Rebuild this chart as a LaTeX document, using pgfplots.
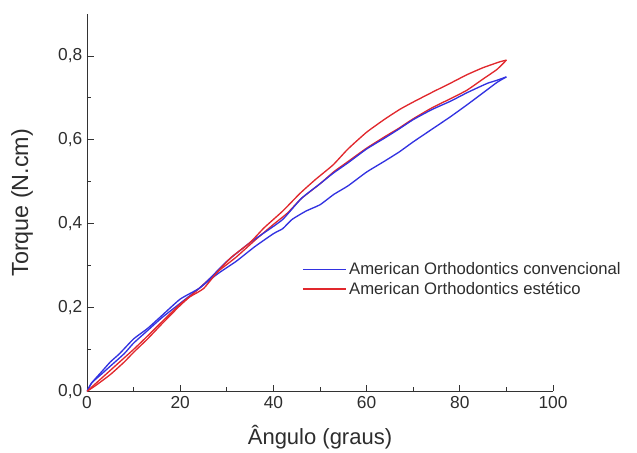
\documentclass[border=0pt]{standalone}
\usepackage{fontspec}
\setmainfont{Liberation Sans}
\usepackage{pgfplots}
\pgfplotsset{compat=1.18}
\definecolor{bl}{RGB}{50,50,225}
\definecolor{rd}{RGB}{225,40,45}
\definecolor{txt}{RGB}{45,45,45}
\begin{document}
\begin{tikzpicture}
\begin{axis}[
 scale only axis, width=349.5pt, height=283pt,
 xmin=0, xmax=100, ymin=0, ymax=0.9,
 axis lines*=left,
 axis line style={draw=black!80, line width=0.6pt},
 xtick={0,20,40,60,80,100}, ytick={0,0.2,0.4,0.6,0.8},
 minor xtick={10,30,50,70,90}, minor ytick={0.1,0.3,0.5,0.7},
 tick align=inside,
 major tick length=5pt, minor tick length=3pt,
 tick style={black!80, line width=0.6pt},
 yticklabel style={/pgf/number format/.cd, fixed, fixed zerofill, precision=1, use comma},
 xticklabel style={/pgf/number format/.cd, fixed, use comma},
 /pgf/number format/assume math mode=true,
 ticklabel style={font=\fontsize{13}{15}\selectfont, text=txt},
 xlabel={Ângulo (graus)}, ylabel={Torque (N.cm)},
 xlabel style={at={(axis description cs:0.5,-0.122)}, anchor=center, font=\fontsize{16.5}{19}\selectfont, text=txt},
 ylabel style={at={(axis description cs:-0.1395,0.5)}, anchor=center, font=\fontsize{17.5}{20}\selectfont, text=txt},
 legend style={draw=none, fill=none, at={(rel axis cs:0.461,0.297)}, anchor=west, inner sep=0pt, font=\fontsize{12.5}{15}\selectfont, text=txt},
 legend cell align=left,
 legend image code/.code={\draw[#1, line width=1.3pt] (0pt,0pt) -- (32pt,0pt);},
]
\addplot[bl, line width=1pt, smooth, tension=0.3] coordinates {
(0,0) (1,0.02) (3,0.04) (5,0.06) (8,0.09) (10,0.115) (13,0.145) (16,0.175) (20,0.21) (24,0.245) (28,0.28) (32,0.31) (36,0.345) (40,0.376) (42,0.388) (44,0.41) (47,0.43) (50,0.445) (53,0.47) (56,0.49) (60,0.523) (64,0.55) (67,0.571) (70,0.595) (74,0.625) (78,0.655) (81.5,0.683) (85,0.712) (88,0.737) (90,0.75)
};
\addlegendentry{American Orthodontics convencional}
\addplot[rd, line width=1pt, smooth, tension=0.3] coordinates {
(0,0) (2,0.015) (5,0.04) (8,0.07) (10,0.093) (13,0.125) (16,0.16) (20,0.205) (24,0.245) (28,0.285) (32,0.32) (36,0.36) (40,0.398) (43,0.425) (46,0.46) (50,0.495) (53,0.524) (56,0.548) (60,0.58) (64,0.608) (67,0.628) (70,0.65) (74,0.676) (78,0.698) (81.5,0.718) (85,0.745) (88,0.768) (90,0.79)
};
\addlegendentry{American Orthodontics estético}
\addplot[bl, line width=1pt, smooth, tension=0.3, forget plot] coordinates {
(90,0.75) (88,0.742) (86,0.735) (84,0.725) (81.5,0.712) (78,0.692) (74,0.672) (70,0.648) (67,0.626) (64,0.605) (60,0.578) (56,0.545) (52.8,0.52) (50,0.495) (46,0.46) (42,0.41) (38,0.378) (35,0.355) (30,0.31) (26,0.265) (24,0.245) (20,0.22) (16,0.18) (13,0.15) (10,0.125) (7,0.09) (5,0.07) (3,0.045) (1,0.02) (0,0)
};
\addplot[rd, line width=1pt, smooth, tension=0.3, forget plot] coordinates {
(90,0.79) (88.6,0.786) (85,0.772) (81.5,0.755) (78,0.735) (74.2,0.714) (70,0.69) (67.2,0.673) (64,0.65) (60,0.618) (56,0.578) (52.8,0.54) (49,0.505) (45.7,0.472) (42,0.43) (38,0.39) (35,0.355) (31,0.32) (28,0.285) (25,0.245) (22,0.225) (20,0.208) (16,0.165) (13,0.132) (10,0.1) (7,0.07) (5,0.05) (2,0.02) (0,0)
};
\end{axis}
\pgfresetboundingbox
\path[use as bounding box] (-65.25pt,-45.75pt) rectangle (412.5pt,293.5pt);
\end{tikzpicture}
\end{document}
